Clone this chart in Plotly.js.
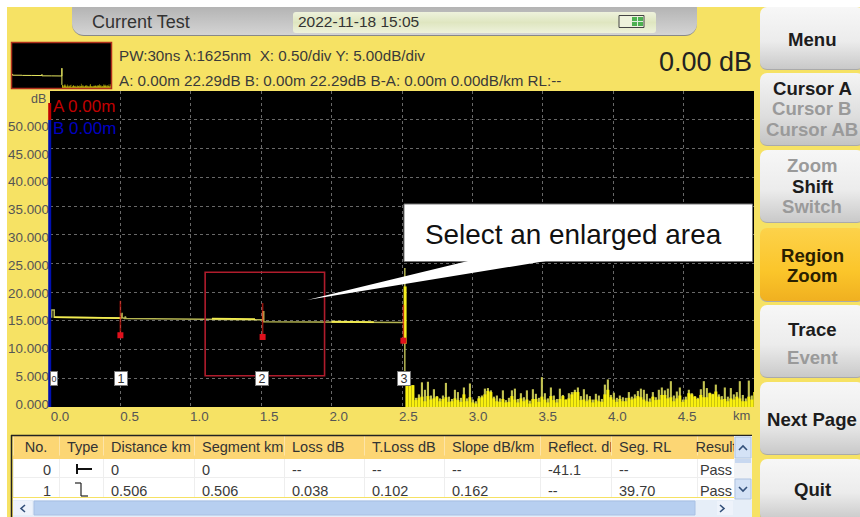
<!DOCTYPE html>
<html><head><meta charset="utf-8">
<script src="https://cdn.plot.ly/plotly-3.0.1.min.js"></script>
<style>
html,body{margin:0;padding:0;background:#fff;width:860px;height:517px;overflow:hidden;font-family:"Liberation Sans",Arial,sans-serif}
#bg{position:absolute;left:7px;top:7px;width:853px;height:510px;background:#f6e264}
#tab{position:absolute;left:72px;top:7px;width:625px;height:29px;border-radius:0 0 12px 12px;background:linear-gradient(#b4b4b4,#d4d4d4);border-bottom:1px solid #888;box-sizing:border-box}
#date{position:absolute;left:293px;top:12px;width:363px;height:21px;border-radius:3px;background:linear-gradient(#eef2dc,#dfe6c0 50%,#eef2dc)}
.btn{position:absolute;left:760px;width:104px;border-radius:7px;box-sizing:border-box;background:linear-gradient(#f7f7f7,#ececec 55%,#c9c9c9);border-bottom:1px solid #aaa}
.on{background:linear-gradient(#fdd24a,#fbc52a 60%,#f0b020)}
#chart{position:absolute;left:0;top:0;width:860px;height:517px}
</style></head><body>
<div id="bg"></div><div id="tab"></div><div id="date"></div>
<div class="btn" style="top:7px;height:63px"></div>
<div class="btn" style="top:73px;height:73px;background:linear-gradient(#f4f4f4,#dedede 60%,#c4c4c4)"></div>
<div class="btn" style="top:150px;height:73px"></div>
<div class="btn on" style="top:228px;height:74px"></div>
<div class="btn" style="top:305px;height:73px"></div>
<div class="btn" style="top:382px;height:73px"></div>
<div class="btn" style="top:459px;height:62px"></div>
<div id="chart"></div>
<script>
// Trace (km, dB)
const traceKm = [0,0.012,0.012,0.03,0.03,0.5,0.508,0.512,0.512,0.53,0.535,0.54,1.0,1.5,1.512,1.512,1.518,1.518,2.0,2.52,2.52,2.52];
const traceDb = [15.7,15.7,16.9,16.9,15.65,15.5,15.5,16.4,15.6,15.4,15.75,15.4,15.35,15.2,15.2,16.6,16.6,14.85,14.8,14.7,24.2,3.8];
const brightKm = [0.03,0.5,null,1.15,1.46,null,2.0,2.3];
const brightDb = [15.65,15.5,null,15.4,15.3,null,14.85,14.8];
const spikeKm = [2.522,2.522];
const spikeDb = [21.0,11.0];
// Events
const eventKm = [0.5,1.51,2.51];
const eventLow = [12.5,12.2,11.55];
const eventHigh = [18.5,18.1,17.8];
const eventLabels = ["0","1","2","3"];
const eventLabelKm = [0,0.506,1.508,2.515];
// Noise after the fibre end (dB peaks and the solid yellow floor)
const noiseStart = 2.535, noiseStep = 0.0213;
const noisePeak = [3.8,3.8,3.8,1.6,2.2,4.3,3.0,4.4,2.0,3.1,1.9,1.5,2.0,4.2,1.8,1.4,3.0,2.6,1.6,3.4,1.5,4.1,1.3,1.0,1.9,2.0,3.2,3.3,2.9,1.8,2.0,1.5,2.9,1.2,1.6,2.9,3.2,1.4,2.4,1.7,2.9,1.1,3.1,2.3,1.6,5.2,2.4,1.5,3.4,2.0,1.4,3.2,2.1,1.3,2.4,2.6,3.0,3.4,1.9,3.1,2.2,1.9,1.3,2.3,2.0,1.4,3.9,4.8,2.1,2.5,1.6,2.0,1.7,1.6,2.6,1.8,2.2,2.8,3.2,3.0,2.3,1.5,2.6,1.7,3.0,3.4,2.9,3.2,4.5,2.0,2.7,3.4,1.3,1.8,3.0,2.4,1.9,1.6,3.1,4.5,3.3,2.5,2.3,3.9,2.2,1.9,3.4,1.8,3.3,2.2,2.6,4.5,2.1,1.5,4.6,2.0,2.6,3.2,3.6,2.7];
const noiseFloor = [3.8,3.8,3.8,1.2,1.6,1.8,1.0,1.9,1.3,1.5,1.8,1.0,1.4,1.7,0.9,1.0,1.5,1.2,0.9,2.2,1.0,1.7,0.8,0.6,1.5,1.7,2.2,2.8,2.6,1.5,1.0,0.9,1.4,0.8,0.9,1.9,1.3,0.8,1.5,1.0,1.3,0.6,1.4,1.4,0.9,1.8,1.3,0.8,1.9,1.2,0.8,1.4,1.9,1.3,1.5,2.2,2.6,2.6,1.2,1.3,1.0,1.3,0.8,1.3,1.0,0.9,2.2,3.0,1.7,1.3,0.9,1.4,1.0,1.0,1.6,1.3,1.5,1.9,1.7,1.3,1.0,0.9,1.8,1.2,1.3,2.1,2.1,1.5,1.7,1.0,1.5,2.0,0.9,1.3,2.4,2.2,1.8,1.4,2.1,1.7,1.7,2.4,2.2,2.7,1.8,1.3,1.4,1.0,1.5,1.3,1.8,1.5,1.0,1.0,1.8,1.3,2.6,3.0,3.2,1.7];
// Axis ticks
const yTicks = [0,5,10,15,20,25,30,35,40,45,50];
const xTicks = [0,0.5,1,1.5,2,2.5,3,3.5,4,4.5];
// Table
const tableHead = ["No.","Type","Distance\u00a0km","Segment\u00a0km","Loss\u00a0dB","T.Loss\u00a0dB","Slope\u00a0dB/km","Reflect.\u00a0dB","Seg.\u00a0RL","Result"];
const colNo = ["0","1"], colType = ["",""], colDistance = ["0","0.506"], colSegment = ["0","0.506"];
const colLoss = ["--","0.038"], colTLoss = ["--","0.102"], colSlope = ["--","0.162"];
const colReflect = ["-41.1","--"], colSegRL = ["--","39.70"], colResult = ["Pass","Pass"];
// Header readouts and buttons
const titleText = "Current Test", dateText = "2022-11-18 15:05";
const infoLine1 = "PW:30ns \u03bb:1625nm  X: 0.50/div Y: 5.00dB/div";
const infoLine2 = "A: 0.00m 22.29dB B: 0.00m 22.29dB B-A: 0.00m 0.00dB/km RL:--";
const readout = "0.00 dB", calloutText = "Select an enlarged area";

const W=860,H=517, px=x=>x/W, py=y=>1-y/H;
const DARK="#1c1c1c", GREY="#9a9a9a";
function label(text,x,y,size,color,opts){
  return Object.assign({text:text,x:px(x),y:py(y),xref:"paper",yref:"paper",showarrow:false,
    xanchor:"left",yanchor:"middle",borderpad:0,
    font:{size:size,color:color,family:"Liberation Sans"}},opts||{});
}
const btn=(t,y,c,s)=>label("<b>"+t+"</b>",812,y,s||18.6,c,{xanchor:"center"});
const annotations=[
  label(titleText,91,22,18,"#333"),
  label(dateText,297,22,15.5,"#333"),
  label(infoLine1.replace("  ","\u00a0\u00a0"),118,55,15.2,"#3a3a3a"),
  label(infoLine2,118,80,15.2,"#3a3a3a"),
  label(readout,753,62,27,"#222",{xanchor:"right"}),
  label("dB",47,99,12.5,"#555",{xanchor:"right"}),
  label("km",741,415,13,"#555",{xanchor:"center"}),
  label("A 0.00m",52,106,17,"#c00000"),
  label("B 0.00m",52,128.4,17,"#0000c0"),
  label(calloutText,424,234,27.9,"#111"),
  btn("Menu",39,DARK),btn("Cursor A",89,DARK),btn("Cursor B",109,GREY),btn("Cursor AB",129,GREY),
  btn("Zoom",165,GREY),btn("Shift",186,DARK),btn("Switch",207,GREY),
  btn("Region",255,"#2a2000"),btn("Zoom",275,"#2a2000"),
  btn("Trace",329,DARK),btn("Event",357,GREY),btn("Next Page",419,DARK),btn("Quit",490,DARK)
];
eventLabels.forEach((t,i)=>annotations.push({text:t,x:eventLabelKm[i],y:5,xref:"x",yref:"y",showarrow:false,
  xanchor:i===0?"left":"center",yanchor:"middle",width:i===0?6:12,height:13,bgcolor:"#fff",bordercolor:"#777",borderwidth:1,borderpad:0,
  font:{size:i===0?9:12.5,color:"#333",family:"Liberation Sans"}}));

function pline(x0,y0,x1,y1,color,w){return {type:"line",xref:"paper",yref:"paper",x0:px(x0),y0:py(y0),x1:px(x1),y1:py(y1),line:{color:color,width:w}};}
function prect(x0,y0,x1,y1,fill,lc,w){return {type:"rect",xref:"paper",yref:"paper",x0:px(x0),y0:py(y0),x1:px(x1),y1:py(y1),fillcolor:fill,line:{color:lc||fill,width:w||0}};}
function ppath(pts,col){return {type:"path",xref:"paper",yref:"paper",path:"M "+pts.map(p=>px(p[0])+","+py(p[1])).join(" L "),line:{color:col,width:1.6}};}
const tail="M "+[[468,261],[546,261],[307,300]].map(p=>px(p[0])+","+py(p[1])).join(" L ")+" Z";
const shapes=[
  pline(49.7,103,49.7,120,"#c00000",3),
  pline(49.7,120,49.7,407,"#0010b0",3),
  {type:"rect",xref:"x",yref:"y",x0:1.102,x1:1.95,y0:5.45,y1:23.47,line:{color:"#b01c2c",width:1.6},fillcolor:"rgba(0,0,0,0)"},
  prect(404,204,752.5,261.5,"#fff","#777",1),
  {type:"path",xref:"paper",yref:"paper",path:tail,fillcolor:"#fff",line:{width:0}},
  // battery
  prect(619,15.5,644,27.5,"#eef2dc","#444",1),
  prect(632,17,643,26,"#4cb050"),
  pline(637.5,17,637.5,26,"#dfeedd",1),pline(632,21.5,643,21.5,"#dfeedd",1),
  // thumbnail frame
  prect(11.5,42.5,111.5,88.5,"rgba(0,0,0,0)","#b0301c",1.5),
  // table furniture: the table sits 3px high so its text lands on the reference rows
  prect(11,428,752,435,"#f6e264"),
  prect(13,455.5,734,459,"#fcd674"),
  pline(11,435.5,752,435.5,"#222",1.5),pline(11.5,435,11.5,517,"#222",1.5),
  prect(13,498,734,501,"#fff"),
  prect(13,500,752,517,"#e6eef8"),
  prect(34,501,695,515,"#b7cff0","#a8c0e4",1),
  prect(13,501,32,515,"#eef3fb"),prect(717,501,733,515,"#eef3fb"),
  prect(734,436,752,500,"#f0f2f5"),
  prect(735,437,751,458,"#d4e2f6","#b0c4e0",1),prect(735,479,751,499,"#d4e2f6","#b0c4e0",1),
  prect(735,459,751,463,"#c8d8f0"),
  // event type glyphs
  pline(77,464,77,474,"#111",2),pline(77,469,92,469,"#111",2),
  pline(75,483,81,483,"#222",1.2),pline(81,483,81,496,"#222",1.2),pline(81,496,88,496,"#222",1.2),
  // scroll arrows
  ppath([[25,505],[21,508.5],[25,512]],"#33507a"),
  ppath([[720,505],[724,508.5],[720,512]],"#33507a"),
  ppath([[739,450],[743,446],[747,450]],"#33507a"),
  ppath([[739,487],[743,491],[747,487]],"#33507a")
];

const OLIVE="#c4c452", YELLOW="#f9f010";
function noiseBars(a,col,w,xa,ya){return {type:"bar",x0:noiseStart,dx:noiseStep,y:a,width:w,xaxis:xa,yaxis:ya,marker:{color:col,line:{width:0}},hoverinfo:"skip",showlegend:false};}
function traceLine(x,y,col,w,xa,ya){return {type:"scatter",mode:"lines",x:x,y:y,xaxis:xa,yaxis:ya,line:{color:col,width:w},hoverinfo:"skip",showlegend:false};}
const eventX=[],eventY=[];
eventKm.forEach((k,i)=>{eventX.push(k,k,null);eventY.push(eventLow[i],eventHigh[i],null);});
const data=[
  noiseBars(noisePeak,OLIVE,0.015,"x","y"),
  noiseBars(noiseFloor,YELLOW,noiseStep,"x","y"),
  traceLine(traceKm,traceDb,"#b5b552",1.5,"x","y"),
  traceLine(brightKm,brightDb,"#f2ec50",1.8,"x","y"),
  traceLine(spikeKm,spikeDb,"#f6ee20",3,"x","y"),
  traceLine(eventX,eventY,"rgba(230,30,20,0.65)",1.6,"x","y"),
  {type:"scatter",mode:"markers",x:eventKm,y:eventLow,marker:{color:"#e0101c",size:6,symbol:"square",line:{width:0}},hoverinfo:"skip",showlegend:false},
  // labels axis pair
  {type:"scatter",mode:"markers",x:[0],y:[0],xaxis:"x3",yaxis:"y3",marker:{opacity:0},hoverinfo:"skip",showlegend:false},
  // thumbnail
  noiseBars(noisePeak,YELLOW,noiseStep,"x2","y2"),
  traceLine(traceKm,traceDb,"#e8e860",1,"x2","y2"),
  {type:"table",domain:{x:[px(13),px(735)],y:[py(498),py(433)]},
   columnwidth:[46,44,91,90,80,80,96,71,86,38],
   header:{values:tableHead,height:23,align:["center","left","left","left","left","left","left","left","left","center"],
     fill:{color:"#fcd674"},line:{color:"#fde4a8",width:1},font:{size:14.5,color:"#333",family:"Liberation Sans"}},
   cells:{values:[colNo,colType,colDistance,colSegment,colLoss,colTLoss,colSlope,colReflect,colSegRL,colResult],height:21,
     align:["right","left","left","left","left","left","left","left","left","center"],
     fill:{color:"#fff"},line:{color:"#eeeeee",width:1},font:{size:14.5,color:"#3a3a3a",family:"Liberation Sans"}}}
];
const grid={showgrid:true,gridcolor:"#686868",griddash:"dot",gridwidth:1,zeroline:false,showline:false,showticklabels:false,ticks:"",fixedrange:true};
const tickF={size:13.4,color:"#555",family:"Liberation Sans"};
const layout={
  width:W,height:H,margin:{l:0,r:0,t:0,b:0,pad:0},paper_bgcolor:"rgba(0,0,0,0)",plot_bgcolor:"#000",
  barmode:"overlay",showlegend:false,
  xaxis:Object.assign({},grid,{domain:[px(50),px(754)],range:[0,5],anchor:"y",tickvals:xTicks}),
  yaxis:Object.assign({},grid,{domain:[py(407),py(91)],range:[0,55.05],anchor:"x",tickvals:yTicks}),
  xaxis3:{overlaying:"x",domain:[px(50),px(754)],range:[-0.0718,4.98],anchor:"y3",showgrid:false,zeroline:false,showline:false,tickvals:xTicks,tickformat:".1f",ticks:"",tickfont:tickF,side:"bottom"},
  yaxis3:{overlaying:"y",domain:[py(407),py(91)],range:[-0.54,56.3],anchor:"x3",showgrid:false,zeroline:false,showline:false,tickvals:yTicks,tickformat:".3f",ticks:"",tickfont:tickF,side:"left"},
  xaxis2:{domain:[px(12),px(111)],range:[0,5],anchor:"y2",visible:false},
  yaxis2:{domain:[py(88),py(43)],range:[0,55],anchor:"x2",visible:false},
  annotations:annotations,shapes:shapes
};
// black background of the thumbnail
layout.shapes.unshift({type:"rect",xref:"paper",yref:"paper",layer:"below",x0:px(12),x1:px(111),y0:py(88),y1:py(43),fillcolor:"#000",line:{width:0}});
Plotly.newPlot("chart",data,layout,{displayModeBar:false,staticPlot:true});
</script></body></html>
